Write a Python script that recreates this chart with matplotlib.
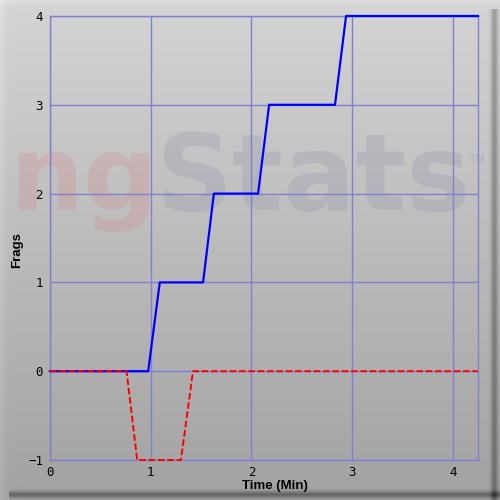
import matplotlib
matplotlib.use("Agg")
import matplotlib.pyplot as plt
import numpy as np

# data
blue_t = [0, 0.975, 1.09, 1.52, 1.627, 2.066, 2.176, 2.83, 2.94, 4.25]
blue_frags = [0, 0, 1, 1, 2, 2, 3, 3, 4, 4]
red_t = [0, 0.76, 0.866, 1.30, 1.42, 4.25]
red_frags = [0, 0, -1, -1, 0, 0]
x_ticks = [0, 1, 2, 3, 4]
y_ticks = [-1, 0, 1, 2, 3, 4]

W, H = 500, 500
fig = plt.figure(figsize=(5, 5), dpi=100)

# background panel: vertical gray gradient with bevel shadow
yy, xx = np.mgrid[0:H, 0:W].astype(float)
bg = 212 - 50 * yy / H
bg += 12 * np.exp(-xx / 4.0) + 10 * np.exp(-yy / 4.0)
bg -= 60 * np.exp(-((yy - 494) / 3.5) ** 2) * (xx > 8)
bg -= 55 * np.exp(-((xx - 494) / 3.5) ** 2) * (yy > 8)
bg = np.clip(bg, 0, 255) / 255.0
bg_ax = fig.add_axes([0, 0, 1, 1], zorder=-5)
bg_ax.imshow(np.dstack([bg, bg, bg]), aspect="auto", interpolation="bilinear")
bg_ax.axis("off")

# watermark
fig.text(9 / W, 1 - 210 / H, "ng", fontsize=75, fontweight="bold",
         family="DejaVu Sans", color="#ff0000", alpha=0.08, va="baseline",
         ha="left", zorder=-2)
fig.text(155 / W, 1 - 210 / H, "Stats", fontsize=77, fontweight="bold",
         family="DejaVu Sans", color="#303080", alpha=0.09, va="baseline",
         ha="left", zorder=-2)
fig.text(469 / W, 1 - 163 / H, "TM", fontsize=8.5, fontweight="bold",
         family="Liberation Sans", color="#303080", alpha=0.09,
         va="baseline", ha="left", zorder=-2)

ax = fig.add_axes([50 / W, 40 / H, 428 / W, 444 / H], zorder=0)
ax.set_facecolor("none")

ax.plot(blue_t, blue_frags, color="#0000ff", lw=1.6, zorder=3, clip_on=False)
ax.plot(red_t, red_frags, color="#ff0000", lw=1.4, linestyle=(0, (3.4, 1.4)),
        zorder=4, clip_on=False)

ax.set_xlim(0, 4.25)
ax.set_ylim(-1, 4)
ax.set_xticks(x_ticks)
ax.set_yticks(y_ticks)
ax.grid(True, color="#8080d0", lw=1)
ax.set_axisbelow(True)
for s in ax.spines.values():
    s.set_color("#8080d0")
    s.set_linewidth(1)
ax.tick_params(length=0, labelsize=9, labelcolor="black")
ax.tick_params(axis="x", pad=4)
ax.tick_params(axis="y", pad=5)
for lab in ax.get_xticklabels() + ax.get_yticklabels():
    lab.set_family("DejaVu Sans Mono")

fig.text(275 / W, 1 - 486 / H, "Time (Min)", fontsize=9.5, fontweight="bold",
         family="Liberation Sans", ha="center", va="center")
fig.text(17 / W, 1 - 250 / H, "Frags", fontsize=9.5, fontweight="bold",
         family="Liberation Sans", ha="center", va="center", rotation=90)

fig.savefig("out.png", dpi=100)
